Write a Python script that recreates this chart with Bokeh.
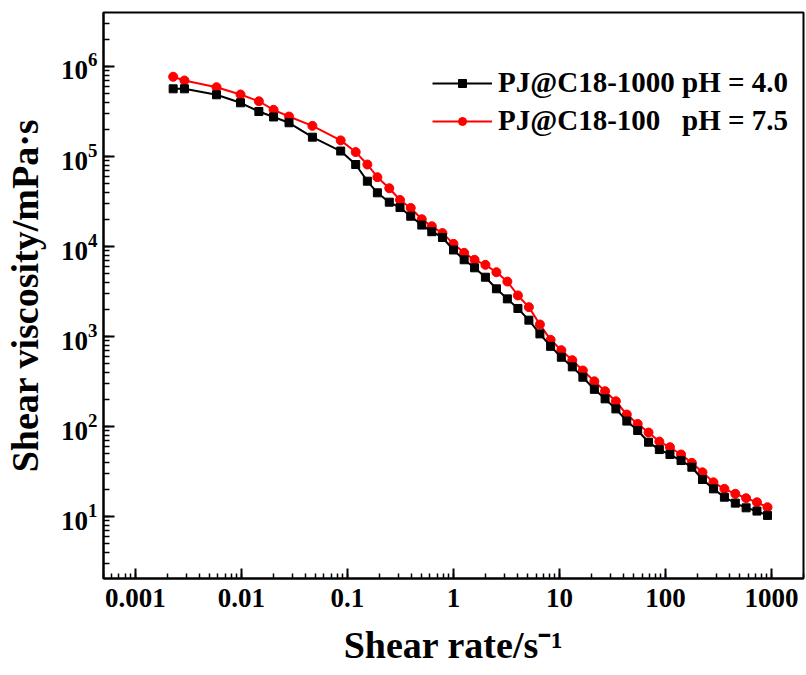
from bokeh.plotting import figure
from bokeh.models import Range1d, Legend, LegendItem, CustomJSTickFormatter, LogTicker
from bokeh.embed import file_html
from bokeh.resources import INLINE

# Shear rate (1/s), shared by both series
shear_rate = [0.00227, 0.0029, 0.00582, 0.0098, 0.0146, 0.0201, 0.0281, 0.0467, 0.0863,
              0.1195, 0.154, 0.1915, 0.248, 0.313, 0.395, 0.502, 0.624, 0.787,
              1.0, 1.26, 1.58, 2.0, 2.54, 3.22, 4.05, 5.14, 6.53, 8.24,
              10.4, 13.2, 16.6, 21.3, 26.9, 34.0, 43.1, 54.6, 69.1, 87.4,
              110, 140, 177, 223, 283, 359, 455, 575, 728, 915]

# Shear viscosity (mPa·s)
visc_pj1000_ph40 = [5.65e5, 5.65e5, 4.85e5, 3.95e5, 3.16e5, 2.75e5, 2.37e5, 1.64e5, 1.15e5,
                    8.15e4, 5.32e4, 3.95e4, 3.11e4, 2.71e4, 2.17e4, 1.73e4, 1.46e4, 1.26e4,
                    9.15e3, 7.12e3, 5.80e3, 4.56e3, 3.39e3, 2.62e3, 2.05e3, 1.52e3, 1.07e3, 778,
                    589, 460, 353, 259, 203, 157, 115, 90.3, 67.0, 55.5,
                    48.9, 41.9, 35.3, 25.8, 20.3, 16.4, 14.1, 12.5, 11.5, 10.3]

visc_pj100_ph75 = [7.69e5, 6.99e5, 5.89e5, 4.89e5, 4.11e5, 3.30e5, 2.78e5, 2.19e5, 1.51e5,
                   1.12e5, 8.15e4, 5.89e4, 4.44e4, 3.29e4, 2.68e4, 2.01e4, 1.68e4, 1.41e4,
                   1.07e4, 8.51e3, 7.12e3, 6.26e3, 5.18e3, 4.08e3, 2.86e3, 2.12e3, 1.36e3, 919,
                   705, 546, 419, 318, 247, 191, 136, 107, 85.8, 68.1,
                   58.9, 48.9, 39.5, 31.0, 24.0, 20.3, 17.9, 16.0, 14.4, 12.7]

series_labels = ["PJ@C18-1000 pH = 4.0", "PJ@C18-100   pH = 7.5"]
x_label = "Shear rate/s\u207b\u00b9"
y_label = "Shear viscosity/mPa\u00b7s"

FONT = "Liberation Serif"

p = figure(width=806, height=675, x_axis_type="log", y_axis_type="log",
           x_range=Range1d(5e-4, 2000), y_range=Range1d(2.05, 3.98e6),
           output_backend="svg", toolbar_location=None,
           min_border_left=103, min_border_right=3, min_border_top=12, min_border_bottom=97)

p.xgrid.visible = False
p.ygrid.visible = False
p.outline_line_color = "black"
p.outline_line_width = 2
p.outline_line_alpha = 1
p.background_fill_color = "white"
p.border_fill_color = "white"

for ax in (p.xaxis[0], p.yaxis[0]):
    ax.axis_line_width = 2
    ax.axis_line_color = "black"
    ax.major_tick_line_width = 2
    ax.minor_tick_line_width = 1.5
    ax.major_tick_out = 0
    ax.minor_tick_out = 0
    ax.major_label_text_font = FONT
    ax.major_label_text_font_style = "bold"
    ax.major_label_text_font_size = "27px"
    ax.major_label_text_color = "black"
    ax.axis_label_text_font = FONT
    ax.axis_label_text_font_style = "bold"
    ax.axis_label_text_font_size = "38px"
    ax.axis_label_text_color = "black"

p.xaxis[0].major_tick_in = 10
p.xaxis[0].minor_tick_in = 5
p.yaxis[0].major_tick_in = 11
p.yaxis[0].minor_tick_in = 6
p.xaxis[0].major_label_standoff = 10
p.yaxis[0].major_label_standoff = 6
p.xaxis[0].axis_label_standoff = 14
p.yaxis[0].axis_label_standoff = 12
p.xaxis[0].ticker = LogTicker(num_minor_ticks=10)
p.yaxis[0].ticker = LogTicker(num_minor_ticks=10)
p.xaxis[0].formatter = CustomJSTickFormatter(code="""
    if (tick >= 1) { return Math.round(tick).toString(); }
    return parseFloat(tick.toPrecision(3)).toString();
""")
p.xaxis[0].axis_label = x_label
p.yaxis[0].axis_label = y_label

l2 = p.line(shear_rate, visc_pj100_ph75, line_color="#ff0000", line_width=2)
s2 = p.scatter(shear_rate, visc_pj100_ph75, marker="circle", size=9,
               fill_color="#ff0000", line_color="#ff0000")
l1 = p.line(shear_rate, visc_pj1000_ph40, line_color="black", line_width=2)
s1 = p.scatter(shear_rate, visc_pj1000_ph40, marker="square", size=8,
               fill_color="black", line_color="black")

legend = Legend(items=[LegendItem(label=series_labels[0], renderers=[l1, s1]),
                       LegendItem(label=series_labels[1], renderers=[l2, s2])],
                location=(329, 441))
legend.label_text_font = FONT
legend.label_text_font_style = "bold"
legend.label_text_font_size = "29px"
legend.label_text_color = "black"
legend.glyph_width = 60
legend.glyph_height = 20
legend.label_standoff = 6
legend.spacing = 5
legend.padding = 0
legend.margin = 0
legend.border_line_color = None
legend.background_fill_alpha = 0
p.add_layout(legend, "center")

open("out.html", "w").write(file_html(p, INLINE))
